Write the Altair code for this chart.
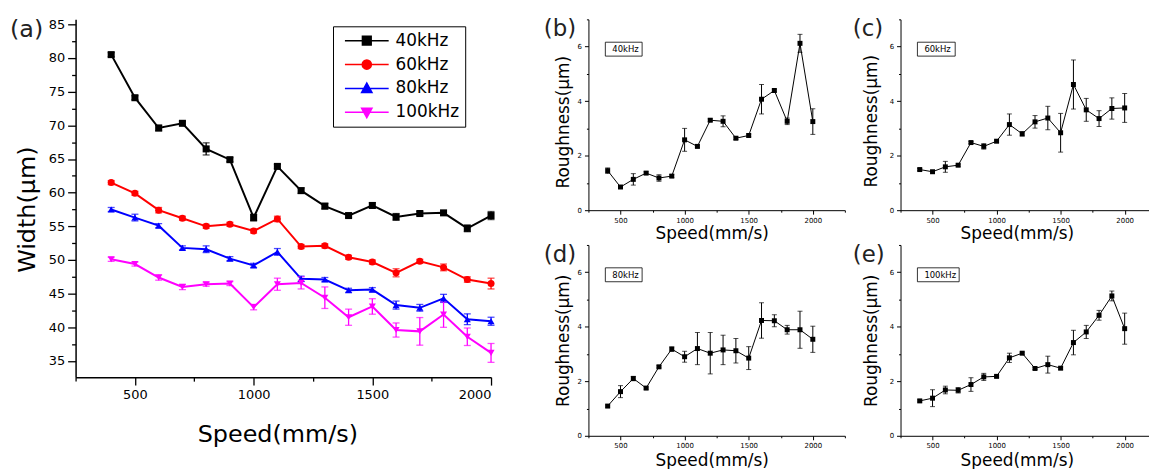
import altair as alt
import pandas as pd

# ---------------- data ----------------
speeds = [400, 500, 600, 700, 800, 900, 1000, 1100, 1200, 1300, 1400, 1500, 1600, 1700, 1800, 1900, 2000]
freqs = ["40kHz", "60kHz", "80kHz", "100kHz"]
panel_labels = ["(a)", "(b)", "(c)", "(d)", "(e)"]

width_40 = [80.5, 74.1, 69.6, 70.3, 66.5, 64.9, 56.3, 63.9, 60.3, 58.0, 56.6, 58.1, 56.4, 56.9, 57.0, 54.7, 56.6]
width_40_err = [0.3, 0.3, 0.4, 0.3, 0.9, 0.3, 0.5, 0.3, 0.4, 0.4, 0.3, 0.4, 0.5, 0.3, 0.3, 0.5, 0.6]
width_60 = [61.5, 59.9, 57.4, 56.2, 55.0, 55.3, 54.3, 56.1, 52.0, 52.1, 50.4, 49.7, 48.1, 49.8, 48.9, 47.1, 46.5]
width_60_err = [0.3, 0.3, 0.4, 0.3, 0.3, 0.3, 0.3, 0.4, 0.3, 0.3, 0.3, 0.3, 0.6, 0.3, 0.5, 0.4, 0.8]
width_80 = [57.5, 56.3, 55.1, 51.8, 51.6, 50.2, 49.2, 51.2, 47.2, 47.1, 45.5, 45.6, 43.3, 42.9, 44.3, 41.2, 40.9]
width_80_err = [0.3, 0.5, 0.3, 0.3, 0.5, 0.3, 0.3, 0.5, 0.4, 0.3, 0.3, 0.3, 0.6, 0.5, 0.6, 0.8, 0.6]
width_100 = [50.1, 49.4, 47.4, 46.0, 46.4, 46.5, 43.0, 46.4, 46.6, 44.4, 41.5, 43.1, 39.6, 39.4, 41.9, 38.6, 36.2]
width_100_err = [0.3, 0.3, 0.4, 0.4, 0.3, 0.3, 0.4, 0.9, 0.9, 1.6, 1.2, 1.15, 1.05, 2.05, 1.9, 1.3, 1.4]

rough_40 = [1.45, 0.85, 1.13, 1.36, 1.18, 1.25, 2.58, 2.34, 3.30, 3.26, 2.64, 2.74, 4.07, 4.39, 3.26, 6.12, 3.25]
rough_40_err = [0.10, 0.05, 0.21, 0.05, 0.12, 0.05, 0.42, 0.05, 0.05, 0.20, 0.05, 0.05, 0.54, 0.05, 0.12, 0.33, 0.47]
rough_60 = [1.49, 1.41, 1.59, 1.65, 2.48, 2.34, 2.53, 3.14, 2.80, 3.24, 3.38, 2.84, 4.61, 3.68, 3.36, 3.73, 3.75]
rough_60_err = [0.04, 0.04, 0.20, 0.04, 0.04, 0.10, 0.04, 0.39, 0.08, 0.23, 0.43, 0.71, 0.90, 0.42, 0.29, 0.39, 0.53]
rough_80 = [1.09, 1.62, 2.10, 1.75, 2.53, 3.18, 2.90, 3.20, 3.03, 3.15, 3.12, 2.85, 4.23, 4.22, 3.89, 3.89, 3.54]
rough_80_err = [0.04, 0.22, 0.08, 0.04, 0.04, 0.08, 0.20, 0.59, 0.76, 0.54, 0.45, 0.42, 0.65, 0.22, 0.16, 0.68, 0.48]
rough_100 = [1.28, 1.38, 1.68, 1.67, 1.88, 2.16, 2.18, 2.86, 3.03, 2.47, 2.61, 2.48, 3.42, 3.81, 4.42, 5.13, 3.93]
rough_100_err = [0.04, 0.31, 0.14, 0.10, 0.25, 0.13, 0.04, 0.17, 0.04, 0.04, 0.31, 0.04, 0.45, 0.24, 0.18, 0.18, 0.57]

colors = ["#000000", "#ff0000", "#0000ff", "#ff00ff"]
shapes = ["square", "circle", "triangle-up", "triangle-down"]
# legend symbols: a line segment with the marker in its middle (unit = 4 px)
legend_paths = [
    "M-5.5,0H5.5M-1.1,-1.1H1.1V1.1H-1.1Z",
    "M-5.5,0H5.5M-1.15,0A1.15,1.15,0,1,1,1.15,0A1.15,1.15,0,1,1,-1.15,0Z",
    "M-5.5,0H5.5M0,-1.35L1.3,1.0L-1.3,1.0Z",
    "M-5.5,0H5.5M0,1.35L1.3,-1.0L-1.3,-1.0Z",
]

FONT = "DejaVu Sans"

# ---------------- panel (a) ----------------
rows = []
for f, vals, errs in zip(freqs, [width_40, width_60, width_80, width_100],
                         [width_40_err, width_60_err, width_80_err, width_100_err]):
    for s, v, e in zip(speeds, vals, errs):
        rows.append({"speed": s, "width": v, "lo": v - e, "hi": v + e, "freq": f})
df_a = pd.DataFrame(rows)

YMIN_A, YMAX_A = 32.6, 85.74

x_axis_a = alt.Axis(
    title="Speed(mm/s)", values=list(range(250, 2001, 250)), format="d",
    labelExpr="datum.value % 500 == 0 ? datum.label : ''", labelOverlap=False,
    tickSize={"condition": {"test": "datum.value % 500 == 0", "value": 8}, "value": 4},
    labelFontSize=13, labelPadding=3, titleFontSize=24, titleX=203, titleY=65,
    titleBaseline="alphabetic", domainWidth=1.5, tickWidth=1.3,
)
y_axis_a = alt.Axis(
    title="Width(μm)", values=[35 + 2.5 * i for i in range(21)], format="d",
    labelExpr="datum.value % 5 == 0 ? datum.label : ''", labelOverlap=False,
    tickSize={"condition": {"test": "datum.value % 5 == 0", "value": 8}, "value": 4},
    labelFontSize=13, labelPadding=3, titleFontSize=24, titleX=-41, titleY=191,
    titleBaseline="alphabetic", domainWidth=1.5, tickWidth=1.3,
)
xa = alt.X("speed:Q", scale=alt.Scale(domain=[250, 2000], nice=False, zero=False), axis=x_axis_a)
ya = alt.Y("width:Q", scale=alt.Scale(domain=[YMIN_A, YMAX_A], nice=False, zero=False), axis=y_axis_a)
ya_lo = alt.Y("lo:Q", scale=alt.Scale(domain=[YMIN_A, YMAX_A], nice=False, zero=False), axis=y_axis_a)
col_a = alt.Color("freq:N", scale=alt.Scale(domain=freqs, range=colors), legend=None)

base_a = alt.Chart(df_a)
line_a = base_a.mark_line(strokeWidth=2).encode(x=xa, y=ya, color=col_a)
err_a = base_a.mark_errorbar(ticks={"size": 7}, thickness=1.3).encode(x=xa, y=ya_lo, y2="hi:Q", color=col_a)
pts_a = base_a.mark_point(filled=True, size=50, opacity=1).encode(
    x=xa, y=ya, color=col_a,
    shape=alt.Shape("freq:N", scale=alt.Scale(domain=freqs, range=shapes), legend=None),
)
leg = alt.Legend(
    title=None, orient="none", legendX=259, legendY=7, symbolSize=64, symbolStrokeWidth=1.5,
    symbolOpacity=1, symbolOffset=19.5, labelOffset=20.5,
    labelFont=FONT, labelFontSize=17, labelColor="black", strokeColor="black", fillColor="white",
    padding=6, rowPadding=6, labelExpr="datum.label + '    '",
)
leg_a = base_a.transform_filter("false").mark_point(filled=True).encode(
    x=xa, y=ya,
    fill=alt.Fill("freq:N", scale=alt.Scale(domain=freqs, range=colors), legend=leg),
    stroke=alt.Stroke("freq:N", scale=alt.Scale(domain=freqs, range=colors), legend=leg),
    shape=alt.Shape("freq:N", scale=alt.Scale(domain=freqs, range=legend_paths), legend=leg),
)
lab_a = alt.Chart(pd.DataFrame({"t": [panel_labels[0]]})).mark_text(
    align="left", baseline="alphabetic", fontSize=24, color="#222"
).encode(x=alt.value(-66), y=alt.value(18), text="t:N")

panel_a = alt.layer(line_a, err_a, pts_a, leg_a, lab_a).resolve_scale(
    shape="independent", fill="independent", stroke="independent"
).properties(width=418, height=360)


# ---------------- small panels ----------------
def small_panel(vals, errs, freq, label, w, xmax, lab_dx, box_x2, ytx, yty, xtx, xty):
    df = pd.DataFrame({"speed": speeds, "rough": vals,
                       "lo": [v - e for v, e in zip(vals, errs)],
                       "hi": [v + e for v, e in zip(vals, errs)]})
    xax = alt.Axis(
        title="Speed(mm/s)", values=list(range(250, xmax + 1, 250)), format="d",
        labelExpr="datum.value % 500 == 0 ? datum.label : ''", labelOverlap=False,
        tickSize={"condition": {"test": "datum.value % 500 == 0", "value": 4}, "value": 2},
        labelFontSize=7, labelPadding=2, titleFontSize=17, titleX=xtx, titleY=xty,
        titleBaseline="alphabetic",
    )
    yax = alt.Axis(
        title="Roughness(μm)", values=list(range(0, 8)), format="d",
        labelExpr="datum.value % 2 == 0 ? datum.label : ''", labelOverlap=False,
        tickSize={"condition": {"test": "datum.value % 2 == 0", "value": 4}, "value": 2},
        labelFontSize=7, labelPadding=3, titleFontSize=17, titleX=ytx, titleY=yty,
        titleBaseline="alphabetic",
    )
    xs = alt.Scale(domain=[250, xmax], nice=False, zero=False)
    ys = alt.Scale(domain=[0, 7], nice=False)
    x = alt.X("speed:Q", scale=xs, axis=xax)
    y = alt.Y("rough:Q", scale=ys, axis=yax)
    ylo = alt.Y("lo:Q", scale=ys, axis=yax)
    base = alt.Chart(df)
    line = base.mark_line(color="black", strokeWidth=1).encode(x=x, y=y)
    err = base.mark_errorbar(ticks={"size": 5}, color="black", thickness=1).encode(x=x, y=ylo, y2="hi:Q")
    pts = base.mark_point(filled=True, shape="square", size=25, color="black", opacity=1).encode(x=x, y=y)
    one = pd.DataFrame({"t": [freq]})
    box = alt.Chart(one).mark_rect(fill="white", stroke="black", strokeWidth=0.8).encode(
        x=alt.value(17), x2=alt.value(box_x2), y=alt.value(23), y2=alt.value(37)
    )
    txt = alt.Chart(one).mark_text(align="left", baseline="middle", fontSize=8.5, color="black").encode(
        x=alt.value(24), y=alt.value(30), text="t:N"
    )
    plab = alt.Chart(pd.DataFrame({"t": [label]})).mark_text(
        align="left", baseline="alphabetic", fontSize=23, color="#222"
    ).encode(x=alt.value(lab_dx), y=alt.value(17), text="t:N")
    return alt.layer(line, err, pts, box, txt, plab).properties(width=w, height=192)


pb = small_panel(rough_40, rough_40_err, freqs[0], panel_labels[1], 258, 2250, -45, 54, -20, 103, 124, 28)
pc = small_panel(rough_60, rough_60_err, freqs[1], panel_labels[2], 250, 2190, -48, 55, -24, 102, 117, 28)
pd_ = small_panel(rough_80, rough_80_err, freqs[2], panel_labels[3], 258, 2250, -45, 54, -20, 96, 124, 30)
pe = small_panel(rough_100, rough_100_err, freqs[3], panel_labels[4], 250, 2190, -48, 59, -24, 96, 117, 30)

grid = alt.concat(pb, pc, pd_, pe, columns=2, spacing={"row": 35, "column": 56}, bounds="flush")

chart = alt.hconcat(panel_a, grid, spacing=98, bounds="flush").properties(
    padding={"left": 2, "top": 6, "right": 0, "bottom": 0}
).configure_view(stroke=None).configure_axis(
    grid=False, domainColor="black", tickColor="black", labelColor="black", titleColor="black",
    labelFont=FONT, titleFont=FONT, titleFontWeight="normal",
).configure_text(font=FONT)

chart.save("out.html", embed_options={"renderer": "svg", "actions": False})
